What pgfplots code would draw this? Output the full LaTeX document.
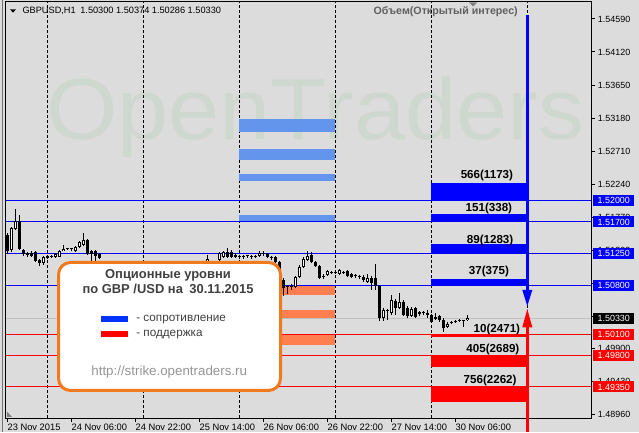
\documentclass[border=0pt]{standalone}
\usepackage{fontspec}
\setmainfont{Liberation Sans}
\usepackage{pgfplots}
\usepackage{pgfplotstable}
\pgfplotsset{compat=1.18}
\definecolor{bg}{RGB}{220,220,220}
\definecolor{wm}{RGB}{207,216,207}
\definecolor{lblue}{RGB}{100,149,237}
\definecolor{coral}{RGB}{255,127,80}
\definecolor{mtblue}{RGB}{0,0,255}
\definecolor{mtred}{RGB}{255,0,0}
\definecolor{bidgray}{RGB}{192,192,192}
\definecolor{orng}{RGB}{242,122,30}
\definecolor{dgray}{RGB}{64,64,64}
\definecolor{lgray}{RGB}{150,150,150}
\definecolor{objgray}{RGB}{96,96,96}
\definecolor{legblue}{RGB}{0,51,255}

% bullish (hollow) candles: bar index, open, high, low, close
\pgfplotstableread{
x o h l c
1 1.51301 1.51628 1.51272 1.51614
2 1.51600 1.51884 1.51585 1.51714
9 1.51115 1.51215 1.51087 1.51201
12 1.51201 1.51258 1.51187 1.51244
13 1.51201 1.51301 1.51201 1.51286
14 1.51286 1.51372 1.51286 1.51315
17 1.51286 1.51358 1.51272 1.51343
18 1.51343 1.51429 1.51329 1.51415
19 1.51372 1.51543 1.51358 1.51443
26 1.51044 1.51101 1.51030 1.51087
29 1.51016 1.51073 1.50987 1.51044
32 1.50959 1.51002 1.50916 1.50987
33 1.50987 1.51059 1.50959 1.51030
35 1.51016 1.51059 1.51002 1.51044
36 1.51044 1.51087 1.51016 1.51073
39 1.51016 1.51073 1.51002 1.51059
41 1.51044 1.51087 1.51030 1.51073
43 1.51059 1.51101 1.51044 1.51087
45 1.51073 1.51115 1.51044 1.51101
48 1.51087 1.51115 1.51059 1.51115
50 1.51101 1.51229 1.51087 1.51172
52 1.51101 1.51130 1.51073 1.51130
53 1.51158 1.51272 1.51130 1.51258
54 1.51201 1.51286 1.51187 1.51272
63 1.51215 1.51286 1.51201 1.51258
72 1.50774 1.50930 1.50759 1.50916
73 1.50916 1.51087 1.50902 1.51059
74 1.51059 1.51201 1.51044 1.51172
75 1.51158 1.51286 1.51144 1.51215
80 1.50945 1.51016 1.50930 1.51002
83 1.50959 1.51030 1.50945 1.51016
90 1.50845 1.50959 1.50831 1.50902
94 1.50332 1.50475 1.50290 1.50446
96 1.50403 1.50660 1.50375 1.50589
98 1.50475 1.50688 1.50460 1.50560
101 1.50361 1.50489 1.50347 1.50460
110 1.50204 1.50275 1.50190 1.50247
115 1.50300 1.50374 1.50286 1.50330
}\bullc

% bearish / doji (filled) candles
\pgfplotstableread{
x o h l c
0 1.51514 1.51543 1.51244 1.51286
3 1.51714 1.51799 1.51301 1.51315
4 1.51301 1.51315 1.51215 1.51244
5 1.51258 1.51272 1.51201 1.51229
6 1.51258 1.51286 1.51201 1.51215
7 1.51272 1.51286 1.51130 1.51144
8 1.51158 1.51172 1.51073 1.51115
10 1.51215 1.51229 1.51172 1.51187
11 1.51201 1.51229 1.51187 1.51215
15 1.51315 1.51329 1.51301 1.51315
16 1.51315 1.51329 1.51286 1.51315
20 1.51443 1.51457 1.51229 1.51244
21 1.51286 1.51301 1.51144 1.51244
22 1.51286 1.51301 1.51144 1.51215
23 1.51244 1.51258 1.51172 1.51187
24 1.51115 1.51115 1.51044 1.51073
25 1.51073 1.51101 1.51016 1.51044
27 1.51087 1.51101 1.51016 1.51059
28 1.51059 1.51073 1.50987 1.51016
30 1.51044 1.51059 1.50973 1.51002
31 1.51002 1.51016 1.50930 1.50959
34 1.51030 1.51044 1.50987 1.51016
37 1.51073 1.51087 1.51016 1.51044
38 1.51044 1.51059 1.50987 1.51016
40 1.51059 1.51073 1.51016 1.51044
42 1.51073 1.51101 1.51030 1.51059
44 1.51087 1.51101 1.51044 1.51073
46 1.51101 1.51115 1.51059 1.51073
47 1.51073 1.51115 1.51044 1.51087
49 1.51115 1.51115 1.51073 1.51101
51 1.51130 1.51130 1.51073 1.51101
55 1.51272 1.51329 1.51187 1.51201
56 1.51272 1.51301 1.51187 1.51201
57 1.51229 1.51258 1.51187 1.51201
58 1.51215 1.51229 1.51172 1.51201
59 1.51215 1.51229 1.51172 1.51201
60 1.51215 1.51229 1.51187 1.51215
61 1.51215 1.51229 1.51172 1.51201
62 1.51201 1.51229 1.51187 1.51215
64 1.51258 1.51286 1.51215 1.51244
65 1.51244 1.51258 1.51187 1.51201
66 1.51201 1.51215 1.51158 1.51187
67 1.51201 1.51215 1.51115 1.51130
68 1.51130 1.51144 1.50845 1.50873
69 1.50873 1.50902 1.50646 1.50759
70 1.50774 1.50802 1.50674 1.50774
71 1.50774 1.50816 1.50731 1.50788
76 1.51229 1.51272 1.51115 1.51130
77 1.51130 1.51144 1.51059 1.51073
78 1.51073 1.51087 1.50888 1.50902
79 1.50916 1.50959 1.50888 1.50930
81 1.50973 1.51002 1.50959 1.50987
82 1.50973 1.51016 1.50959 1.50987
84 1.50987 1.51002 1.50959 1.50973
85 1.51002 1.51016 1.50916 1.50930
86 1.50959 1.50973 1.50902 1.50916
87 1.50945 1.50959 1.50902 1.50930
88 1.50930 1.50945 1.50888 1.50916
89 1.50916 1.50945 1.50845 1.50873
91 1.50902 1.50930 1.50731 1.50831
92 1.50902 1.51101 1.50731 1.50788
93 1.50788 1.50802 1.50290 1.50332
95 1.50446 1.50460 1.50304 1.50432
97 1.50574 1.50603 1.50375 1.50475
99 1.50560 1.50589 1.50361 1.50375
100 1.50475 1.50503 1.50332 1.50361
102 1.50475 1.50489 1.50332 1.50347
103 1.50418 1.50432 1.50361 1.50389
104 1.50418 1.50432 1.50375 1.50403
105 1.50403 1.50446 1.50332 1.50375
106 1.50375 1.50389 1.50261 1.50275
107 1.50347 1.50403 1.50304 1.50318
108 1.50361 1.50375 1.50275 1.50304
109 1.50304 1.50332 1.50133 1.50190
111 1.50261 1.50290 1.50247 1.50275
112 1.50275 1.50304 1.50261 1.50290
113 1.50290 1.50318 1.50275 1.50304
114 1.50290 1.50304 1.50204 1.50304
}\bearc

\begin{document}
\begin{tikzpicture}
\useasboundingbox (-4.5pt,-10.5pt) rectangle (474.75pt,313.5pt);
\fill[bg] (-4.5pt,-10.5pt) rectangle (474.75pt,313.5pt);
\begin{scope}[shift={(-4.5pt,313.5pt)}, x=0.75pt, y=-0.75pt]
  \draw[black!55, line width=0.75pt] (2.5,0) -- (2.5,432);
  \node[text=wm, font=\fontsize{65}{70}\selectfont, transform shape, xscale=1.06, anchor=base west, inner sep=0pt] at (46,140) {OpenTraders};
\end{scope}
\begin{axis}[
  at={(0,0)}, anchor=south west,
  scale only axis, width=438.75pt, height=312pt,
  xmin=-0.325, xmax=145.925, ymin=1.48908, ymax=1.54832,
  clip=false,
  axis line style={black, line width=0.75pt},
  xtick={0,16,32,48,64,80,96,112},
  xticklabels={23 Nov 2015, 24 Nov 06:00, 24 Nov 22:00, 25 Nov 14:00, 26 Nov 06:00, 26 Nov 22:00, 27 Nov 14:00, 30 Nov 06:00},
  xtick pos=left,
  ytick pos=right, yticklabel pos=right,
  tick align=outside,
  major tick length=3pt,
  tick style={black, line width=0.75pt},
  ytick={1.4896,1.4943,1.4990,1.5036,1.5083,1.5130,1.5177,1.5224,1.5271,1.5318,1.5365,1.5412,1.5459},
  yticklabels={1.48960,1.49430,1.49900,,,1.51300,1.51770,1.52240,1.52710,1.53180,1.53650,1.54120,1.54590},
  yticklabel style={font=\fontsize{6.7}{8}\selectfont, anchor=west, inner sep=0pt, xshift=2pt},
  xticklabel style={font=\fontsize{7}{8}\selectfont, anchor=north west, inner sep=0pt, yshift=-1pt},
  extra x ticks={10,34,58,82,106,130},
  extra x tick labels={},
  extra x tick style={xmajorgrids=true, major tick length=0pt, major grid style={black, line width=0.75pt, dash pattern=on 2.25pt off 1.5pt}},
  scaled y ticks=false,
]
% previous levels (light blue / coral)
\addplot[fill=lblue, draw=none] coordinates {(58,1.52981) (82,1.52981) (82,1.53166) (58,1.53166)} --cycle;
\addplot[fill=lblue, draw=none] coordinates {(58,1.52582) (82,1.52582) (82,1.52739) (58,1.52739)} --cycle;
\addplot[fill=lblue, draw=none] coordinates {(58,1.52283) (82,1.52283) (82,1.52387) (58,1.52387)} --cycle;
\addplot[fill=lblue, draw=none] coordinates {(58,1.51700) (82,1.51700) (82,1.51799) (58,1.51799)} --cycle;
\addplot[fill=coral, draw=none] coordinates {(58,1.50790) (82,1.50790) (82,1.50660) (58,1.50660)} --cycle;
\addplot[fill=coral, draw=none] coordinates {(58,1.50446) (82,1.50446) (82,1.50330) (58,1.50330)} --cycle;
\addplot[fill=coral, draw=none] coordinates {(58,1.50100) (82,1.50100) (82,1.49948) (58,1.49948)} --cycle;
% level lines
\addplot[mtblue, line width=0.75pt] coordinates {(-0.325,1.52000) (145.925,1.52000)};
\addplot[mtblue, line width=0.75pt] coordinates {(-0.325,1.51700) (145.925,1.51700)};
\addplot[mtblue, line width=0.75pt] coordinates {(-0.325,1.51250) (145.925,1.51250)};
\addplot[mtblue, line width=0.75pt] coordinates {(-0.325,1.50800) (145.925,1.50800)};
\addplot[bidgray, line width=0.75pt] coordinates {(-0.325,1.50330) (145.925,1.50330)};
\addplot[mtred, line width=0.75pt] coordinates {(-0.325,1.50100) (145.925,1.50100)};
\addplot[mtred, line width=0.75pt] coordinates {(-0.325,1.49800) (145.925,1.49800)};
\addplot[mtred, line width=0.75pt] coordinates {(-0.325,1.49350) (145.925,1.49350)};
% current option levels
\addplot[fill=mtblue, draw=none] coordinates {(106,1.52000) (130,1.52000) (130,1.52255) (106,1.52255)} --cycle;
\addplot[fill=mtblue, draw=none] coordinates {(106,1.51700) (130,1.51700) (130,1.51813) (106,1.51813)} --cycle;
\addplot[fill=mtblue, draw=none] coordinates {(106,1.51250) (130,1.51250) (130,1.51386) (106,1.51386)} --cycle;
\addplot[fill=mtblue, draw=none] coordinates {(106,1.50800) (130,1.50800) (130,1.50888) (106,1.50888)} --cycle;
\addplot[fill=mtred, draw=none] coordinates {(106,1.50100) (130,1.50100) (130,1.50062) (106,1.50062)} --cycle;
\addplot[fill=mtred, draw=none] coordinates {(106,1.49800) (130,1.49800) (130,1.49639) (106,1.49639)} --cycle;
\addplot[fill=mtred, draw=none] coordinates {(106,1.49350) (130,1.49350) (130,1.49140) (106,1.49140)} --cycle;
% candles: wicks
\addplot[draw=none, error bars/.cd, y dir=plus, y explicit, error mark=none, error bar style={draw=black, line width=0.75pt}]
  table[x=x, y=l, y error plus expr=\thisrow{h}-\thisrow{l}] {\bearc};
\addplot[draw=none, error bars/.cd, y dir=plus, y explicit, error mark=none, error bar style={draw=black, line width=0.75pt}]
  table[x=x, y=l, y error plus expr=\thisrow{h}-\thisrow{l}] {\bullc};
% bodies
\addplot[draw=none, error bars/.cd, y dir=plus, y explicit, error mark=none, error bar style={draw=black, line width=2.25pt}]
  table[x=x, y expr={min(\thisrow{o},\thisrow{c})}, y error plus expr={max(abs(\thisrow{c}-\thisrow{o}),0.00014)}] {\bearc};
\addplot[draw=none, error bars/.cd, y dir=plus, y explicit, error mark=none, error bar style={draw=black, line width=2.25pt}]
  table[x=x, y=o, y error plus expr=\thisrow{c}-\thisrow{o}] {\bullc};
\addplot[draw=none, error bars/.cd, y dir=plus, y explicit, error mark=none, error bar style={draw=white, line width=0.75pt}]
  table[x=x, y expr=\thisrow{o}+0.00014, y error plus expr=\thisrow{c}-\thisrow{o}-0.00028] {\bullc};
% level labels
\node[font=\bfseries\fontsize{8.7}{10}\selectfont, inner sep=0pt] at (axis cs:119.9,1.52361) {566(1173)};
\node[font=\bfseries\fontsize{8.7}{10}\selectfont, inner sep=0pt] at (axis cs:120.4,1.51889) {151(338)};
\node[font=\bfseries\fontsize{8.7}{10}\selectfont, inner sep=0pt] at (axis cs:120.7,1.51436) {89(1283)};
\node[font=\bfseries\fontsize{8.7}{10}\selectfont, inner sep=0pt] at (axis cs:120.4,1.50994) {37(375)};
\node[font=\bfseries\fontsize{8.7}{10}\selectfont, inner sep=0pt] at (axis cs:122.4,1.50169) {10(2471)};
\node[font=\bfseries\fontsize{8.7}{10}\selectfont, inner sep=0pt] at (axis cs:121.4,1.49884) {405(2689)};
\node[font=\bfseries\fontsize{8.7}{10}\selectfont, inner sep=0pt] at (axis cs:120.7,1.49435) {756(2262)};
% arrows
\addplot[mtblue, line width=2.25pt] coordinates {(130,1.54647) (130,1.50731)};
\addplot[fill=mtblue, draw=none] coordinates {(128.75,1.50731) (131.25,1.50731) (130,1.50503)} --cycle;
\addplot[mtred, line width=2.25pt] coordinates {(130,1.50200) (130,1.48709)};
\addplot[fill=mtred, draw=none] coordinates {(128.75,1.50200) (131.25,1.50200) (130,1.50460)} --cycle;
\end{axis}
\begin{scope}[shift={(-4.5pt,313.5pt)}, x=0.75pt, y=-0.75pt]
  % header
  \fill[black] (10,9.3) -- (16,9.3) -- (13,12.7) -- cycle;
  \node[anchor=base west, inner sep=0pt, font=\fontsize{6.9}{8}\selectfont] at (22.3,14) {GBPUSD,H1\hspace{0.5em}1.50300 1.50374 1.50286 1.50330};
  \node[anchor=base east, inner sep=0pt, font=\bfseries\fontsize{8}{9}\selectfont, text=objgray] at (518,14.7) {Объем(Открытый интерес)};
  \fill[black!50] (469,2.5) -- (477,2.5) -- (473,6.5) -- cycle;
  \fill[black!50] (7,411.5) -- (7,417) -- (12,417) -- cycle;
  % price boxes
  \foreach \yy/\tt in {200.88/1.52000, 221.95/1.51700, 253.55/1.51250, 285.15/1.50800}{
    \node[fill=mtblue, text=white, minimum width=30.75pt, minimum height=8.25pt, inner sep=0pt, anchor=west, font=\fontsize{6.7}{8}\selectfont] at (593,\yy) {\tt};}
  \node[fill=black, text=white, minimum width=30.75pt, minimum height=8.25pt, inner sep=0pt, anchor=west, font=\fontsize{6.7}{8}\selectfont] at (593,318.16) {1.50330};
  \foreach \yy/\tt in {334.31/1.50100, 355.38/1.49800, 386.98/1.49350}{
    \node[fill=mtred, text=white, minimum width=30.75pt, minimum height=8.25pt, inner sep=0pt, anchor=west, font=\fontsize{6.7}{8}\selectfont] at (593,\yy) {\tt};}
  % legend box
  \draw[orng, line width=2.25pt, fill=white, rounded corners=9pt] (58.5,262.5) rectangle (280.5,390.5);
  \node[anchor=base, inner sep=0pt, font=\bfseries\fontsize{9.7}{11}\selectfont, text=dgray] at (168,279) {Опционные уровни};
  \node[anchor=base, inner sep=0pt, font=\bfseries\fontsize{9.7}{11}\selectfont, text=dgray] at (168,294) {по GBP /USD на\hspace{0.5em}30.11.2015};
  \fill[legblue] (100.7,316) rectangle (128,321.7);
  \fill[mtred] (100.7,331.3) rectangle (128,337);
  \node[anchor=base west, inner sep=0pt, font=\fontsize{8.8}{10}\selectfont, text=dgray] at (136,321.7) {- сопротивление};
  \node[anchor=base west, inner sep=0pt, font=\fontsize{8.8}{10}\selectfont, text=dgray] at (136,336.7) {- поддержка};
  \node[anchor=base, inner sep=0pt, font=\fontsize{10}{11}\selectfont, text=lgray] at (169.2,375.7) {http://strike.opentraders.ru};
\end{scope}
\end{tikzpicture}
\end{document}
